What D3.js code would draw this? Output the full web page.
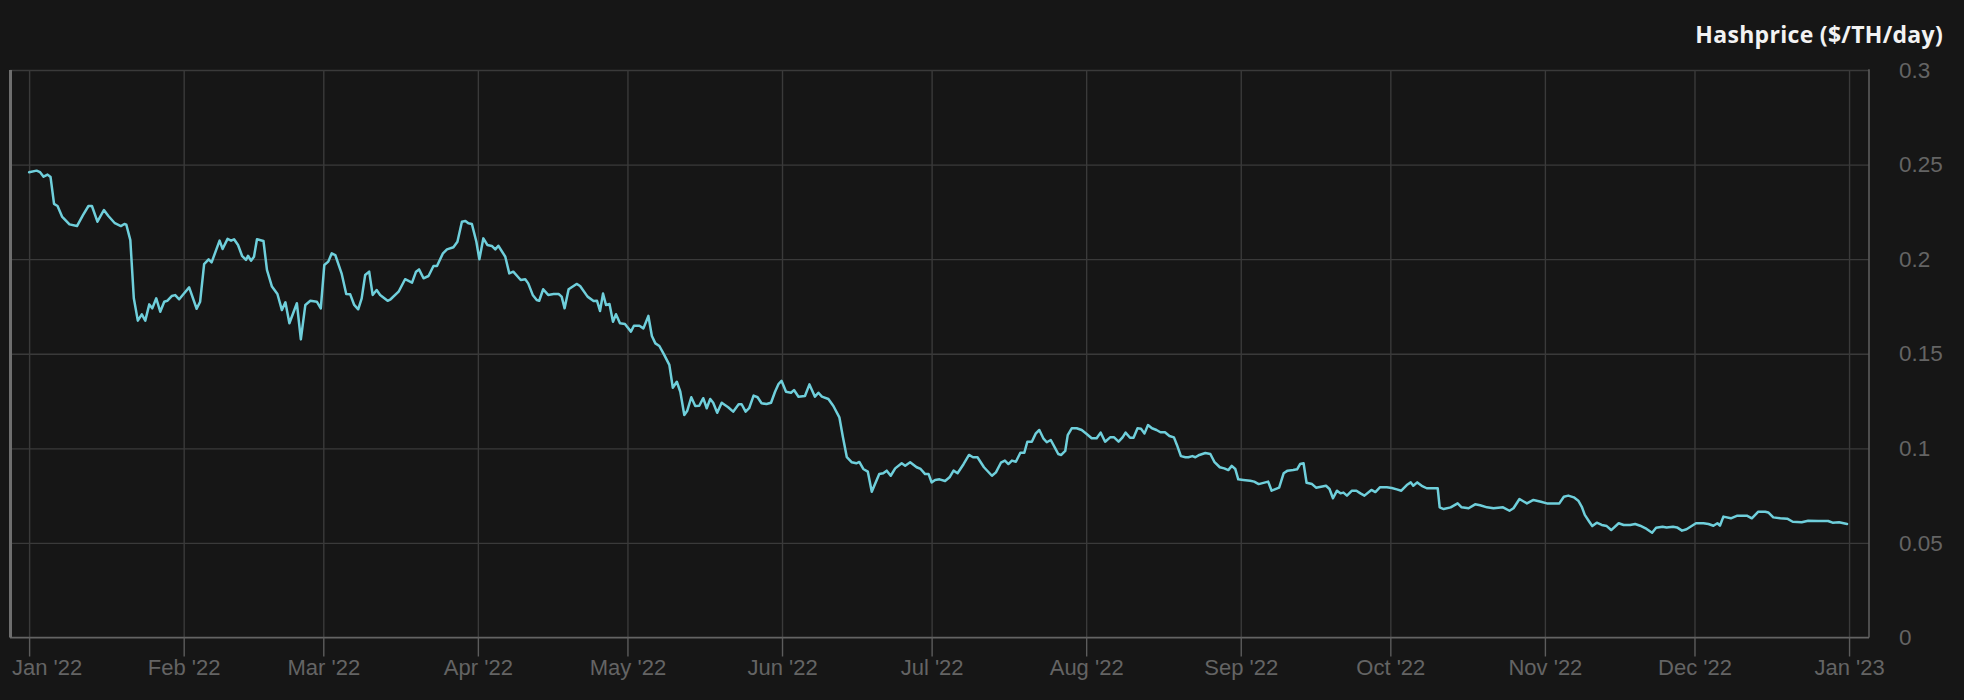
<!DOCTYPE html>
<html><head><meta charset="utf-8">
<script src="https://cdn.jsdelivr.net/npm/d3@7"></script>
<style>html,body{margin:0;padding:0;background:#161616;}svg{display:block;}</style>
</head><body>
<svg id="chart" width="1964" height="700"></svg>
<script>
// Days since 2022-01-01
const days = [
0,1.5,2.2,2.9,3.7,4.3,5.0,5.7,6.6,8.1,
9.6,10.8,11.9,12.6,13.7,15.0,15.9,17.2,18.4,19.1,
19.5,20.3,21.0,21.8,22.6,23.3,24.1,24.7,25.5,26.3,
27.1,27.7,28.6,29.3,30.1,31.1,32.1,33.6,34.3,35.1,
36.0,36.6,38.2,38.8,39.8,40.5,41.1,41.9,42.7,43.5,
43.9,44.5,45.1,45.7,47.0,47.7,48.7,49.8,50.7,51.4,
52.2,53.7,54.5,55.4,56.4,57.7,58.5,59.2,60.0,60.7,
61.4,62.7,63.6,64.4,65.2,66.0,66.7,67.4,68.2,68.9,
69.7,70.4,71.9,72.5,74.1,75.4,76.8,77.6,78.2,79.1,
80.1,81.1,81.8,83.0,83.8,85.1,85.9,86.8,87.5,88.1,
88.8,89.7,90.3,91.1,91.9,92.8,93.5,94.1,95.5,96.3,
97.1,98.6,99.5,100.1,101.0,101.8,102.3,103.1,104.1,105.2,
106.2,106.8,107.4,108.2,109.8,110.5,112.0,113.2,113.9,114.5,
115.1,115.7,116.4,117.1,117.7,118.5,119.5,120.7,121.3,122.4,
123.2,124.2,124.9,125.6,126.4,127.4,128.4,129.1,129.9,130.6,
131.4,132.0,132.8,133.6,134.4,135.2,135.9,136.6,137.2,138.0,
138.9,140.2,141.2,142.3,142.9,143.7,144.4,145.3,146.1,146.9,
147.9,148.8,149.6,150.3,150.9,151.8,152.8,153.4,154.3,155.6,
156.5,157.6,158.3,159.0,160.3,161.3,162.5,163.2,164.0,165.0,
165.9,166.5,167.3,168.2,169.0,170.5,171.3,172.0,172.8,173.7,
175.0,175.7,176.7,178.0,178.8,179.7,180.4,181.0,181.7,182.6,
183.7,184.6,185.4,186.2,187.4,188.5,189.3,190.2,191.5,193.1,
193.9,194.9,195.7,196.4,197.1,197.9,198.8,199.6,200.2,201.1,
201.9,202.6,203.4,204.1,204.9,205.8,206.4,207.0,207.8,208.3,
209.1,210.1,211.1,212.1,213.1,214.1,214.9,215.8,216.8,217.6,
218.5,219.3,219.9,220.8,221.5,222.3,223.0,223.7,224.4,225.2,
226.1,226.9,227.8,228.7,229.6,230.2,231.0,231.9,232.5,233.3,
233.9,234.7,235.9,236.9,237.7,238.8,239.7,240.5,241.2,241.9,
242.5,243.5,244.9,245.7,246.6,248.5,249.2,250.7,251.6,252.4,
253.5,254.3,254.9,255.6,256.2,257.3,258.1,259.1,260.1,260.8,
261.5,262.3,263.0,263.6,264.3,265.3,266.2,267.0,267.8,269.2,
270.0,270.9,272.3,273.3,274.3,275.2,276.3,277.1,277.6,278.4,
279.3,280.3,281.7,282.5,282.9,283.7,285.1,286.5,287.3,288.7,
290.0,291.0,292.4,293.7,295.6,296.9,297.7,298.9,300.4,301.7,
303.2,304.4,305.7,306.9,307.8,308.7,309.8,310.7,311.4,312.0,
312.9,313.5,314.4,315.4,316.4,317.3,318.8,319.8,321.1,322.1,
323.1,324.4,325.5,326.3,327.6,328.4,329.7,330.5,331.5,332.4,
334.3,335.8,336.8,337.8,338.6,339.1,339.8,341.3,342.6,344.5,
345.5,346.8,348.2,348.8,349.8,351.2,352.6,353.7,355.5,356.8,
358.8,360.8,361.7,363.0,364.6
];
// Hashprice ($/TH/day)
const hashprice = [
.2459,.2468,.246,.2436,.2447,.2434,.2292,.2281,.2225,.2184,
.2175,.2233,.2281,.2281,.2198,.226,.2228,.219,.2175,.2186,
.2182,.2101,.1793,.1675,.1708,.1675,.1761,.174,.1793,.1722,
.1775,.178,.1805,.181,.1788,.182,.1851,.1738,.1775,.1974,
.1999,.1983,.2098,.2054,.2107,.2098,.2105,.2075,.2018,.1996,
.2018,.1992,.2013,.2105,.2096,.1943,.1855,.1816,.1731,.1772,
.1661,.1767,.1576,.1758,.178,.1775,.174,.1969,.1987,.2031,
.2022,.1922,.1816,.1814,.1758,.1735,.1793,.1916,.1934,.1811,
.1837,.1811,.178,.1788,.1828,.1894,.1876,.1934,.1946,.1899,
.1911,.1964,.1964,.2031,.2052,.2063,.2092,.2198,.2202,.219,
.2186,.2092,.1999,.211,.2075,.207,.2052,.2071,.2013,.1925,
.1934,.189,.1894,.1872,.1811,.1784,.178,.1841,.1811,.1816,
.1816,.1802,.174,.1841,.1869,.1858,.1802,.1779,.178,.1726,
.1818,.1758,.1763,.1669,.1709,.1661,.1657,.1617,.1648,.1648,
.1634,.17,.1594,.1555,.1541,.1493,.1441,.132,.1352,.1299,
.1176,.1199,.127,.1224,.1225,.1265,.1212,.1261,.1241,.1188,
.1241,.1217,.1194,.1233,.1233,.1194,.1212,.1279,.127,.1238,
.1234,.1241,.1299,.134,.1357,.1299,.1294,.1308,.1273,.1277,
.1338,.1273,.1294,.1273,.1261,.1224,.1164,.1061,.0953,.0926,
.0921,.0928,.0891,.0877,.0771,.0864,.0868,.0882,.0855,.0894,
.0921,.0908,.0926,.09,.0891,.0864,.0864,.082,.0833,.0836,
.0827,.0847,.0882,.0868,.0916,.0965,.0953,.0953,.09,.0855,
.0873,.0924,.0935,.0917,.0935,.0929,.0977,.0977,.1035,.1035,
.1079,.1097,.1053,.1032,.1044,.1,.097,.0965,.0986,.107,
.1106,.1106,.1097,.1076,.1053,.1053,.1083,.1035,.1058,.1058,
.1035,.1058,.1083,.1056,.1056,.1106,.1103,.1079,.1123,.1106,
.1097,.1085,.1085,.1065,.1058,.1018,.0959,.0953,.0953,.0959,
.0953,.0965,.0975,.097,.0929,.09,.0894,.0885,.0907,.0891,
.0836,.0833,.0829,.0824,.0811,.0824,.0776,.0792,.0868,.0882,
.0885,.0889,.0917,.0921,.0818,.0811,.0792,.0797,.0802,.0785,
.0736,.0776,.0762,.0766,.075,.0776,.0776,.0762,.075,.078,
.0769,.0794,.0794,.079,.0783,.0776,.0806,.082,.0802,.082,
.0802,.0789,.0789,.0789,.0688,.0679,.0688,.0709,.0688,.0683,
.0704,.0699,.0688,.0683,.0688,.067,.0683,.0732,.0709,.0727,
.0718,.0709,.0709,.0709,.0744,.075,.0741,.0723,.0691,.0648,
.0612,.0589,.0607,.0595,.0589,.0568,.0604,.0595,.0595,.06,
.0591,.0574,.0554,.058,.0586,.0582,.0586,.0582,.0565,.0572,
.0604,.0604,.06,.0591,.0604,.0591,.0639,.063,.0644,.0644,
.063,.0665,.0665,.0661,.0635,.063,.0628,.0612,.0609,.0617,
.0616,.0616,.0607,.0609,.06
];
const monthTicks = ["2022-01-01","2022-02-01","2022-03-01","2022-04-01","2022-05-01","2022-06-01",
  "2022-07-01","2022-08-01","2022-09-01","2022-10-01","2022-11-01","2022-12-01","2023-01-01"];
const monthLabels = ["Jan '22","Feb '22","Mar '22","Apr '22","May '22","Jun '22",
  "Jul '22","Aug '22","Sep '22","Oct '22","Nov '22","Dec '22","Jan '23"];
const yTicks = [0, 0.05, 0.1, 0.15, 0.2, 0.25, 0.3];
const yLabels = ["0", "0.05", "0.1", "0.15", "0.2", "0.25", "0.3"];
const title = "Hashprice ($/TH/day)";

const L = 10, R = 1869, T = 70, B = 637.5;
const DAY = 864e5, START = Date.UTC(2022, 0, 1);
const svg = d3.select("#chart");

const x = d3.scaleUtc()
  .domain([new Date(Date.UTC(2021, 11, 28, 4)), new Date(Date.UTC(2023, 0, 5))])
  .range([L, R]);
const y = d3.scaleLinear().domain([0, 0.3]).range([B, T]);

const tickDates = monthTicks.map(s => new Date(s + "T00:00:00Z"));
const data = days.map((d, i) => ({ date: new Date(START + d * DAY), v: hashprice[i] }));

svg.append("rect").attr("width", 1964).attr("height", 700).attr("fill", "#161616");

// horizontal grid
const gy = svg.append("g").attr("transform", `translate(${R},0)`)
  .call(d3.axisLeft(y).tickValues(yTicks).tickSize(R - L).tickFormat(""));
gy.select(".domain").remove();
gy.selectAll(".tick line").attr("stroke", "#3a3a3a").attr("stroke-width", 1.4);

// vertical grid
const gx = svg.append("g").attr("transform", `translate(0,${B})`)
  .call(d3.axisTop(x).tickValues(tickDates).tickSize(B - T).tickFormat(""));
gx.select(".domain").remove();
gx.selectAll(".tick line").attr("stroke", "#3a3a3a").attr("stroke-width", 1.4);

// frame lines
svg.append("line").attr("x1", R).attr("x2", R).attr("y1", T - 0.7).attr("y2", B)
  .attr("stroke", "#5c5c5c").attr("stroke-width", 1.6);
svg.append("line").attr("x1", L).attr("x2", R).attr("y1", B).attr("y2", B)
  .attr("stroke", "#646464").attr("stroke-width", 1.6);
svg.append("line").attr("x1", L + 0.5).attr("x2", L + 0.5).attr("y1", T).attr("y2", B)
  .attr("stroke", "#6e6e6e").attr("stroke-width", 3);

// x axis ticks + labels
const ax = svg.append("g").attr("transform", `translate(0,${B})`)
  .call(d3.axisBottom(x).tickValues(tickDates).tickSize(19).tickPadding(3)
    .tickFormat((d, i) => monthLabels[i]));
ax.select(".domain").remove();
ax.selectAll(".tick line").attr("stroke", "#5c5c5c").attr("stroke-width", 1.4);
ax.selectAll(".tick text").attr("fill", "#646464")
  .style("font-family", "'Liberation Sans', Arial, sans-serif").style("font-size", "22px");
// keep first label inside the chart (shift right like the original)
ax.selectAll(".tick text").each(function () {
  const bb = this.getBBox();
  const tx = +this.parentNode.getAttribute("transform").match(/translate\(([-\d.]+)/)[1];
  const left = tx + bb.x;
  if (left < 12) d3.select(this).attr("x", 12 - left);
});

// y axis labels (right side)
const ay = svg.append("g").attr("transform", `translate(${R},0)`)
  .call(d3.axisRight(y).tickValues(yTicks).tickSize(0).tickPadding(30)
    .tickFormat((d, i) => yLabels[i]));
ay.select(".domain").remove();
ay.selectAll(".tick text").attr("fill", "#646464")
  .style("font-family", "'Liberation Sans', Arial, sans-serif").style("font-size", "22.5px");

// line
svg.append("path").datum(data)
  .attr("fill", "none").attr("stroke", "#6fcfdb").attr("stroke-width", 2.5)
  .attr("stroke-linejoin", "round").attr("stroke-linecap", "round")
  .attr("d", d3.line().x(d => x(d.date)).y(d => y(d.v)));

// title
svg.append("text").attr("x", 1943).attr("y", 42.5).attr("text-anchor", "end")
  .attr("fill", "#f2f2f2").style("font-family", "'Open Sans', sans-serif")
  .style("font-weight", 700).style("font-size", "23px").style("letter-spacing", "0.3px")
  .text(title);
</script>
</body></html>
